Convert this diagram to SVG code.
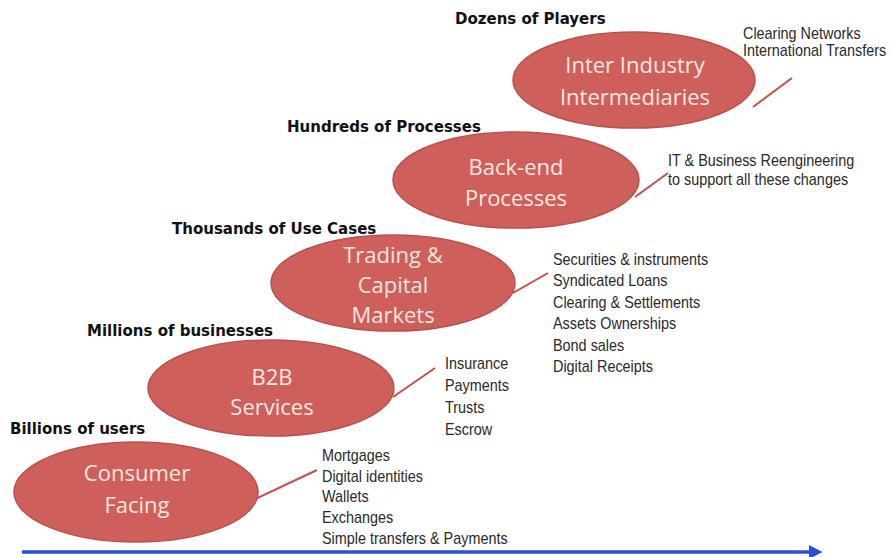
<svg xmlns="http://www.w3.org/2000/svg" width="891" height="557" viewBox="0 0 891 557">
  <defs>
    <style>
      .node ellipse { fill: #cf5f5a; stroke: #b9504c; stroke-width: 1.5; }
      .node text { font-family: "Open Sans", "Noto Sans", sans-serif; font-size: 22px; fill: #fbe6e2; text-anchor: middle; }
      .hdr { font-family: "DejaVu Sans", Verdana, sans-serif; font-weight: bold; font-size: 15px; fill: #111; }
      .lst text { font-family: "Liberation Sans", Arial, sans-serif; font-size: 16px; fill: #2a2a2a; }
      .tail { stroke: #c0504d; stroke-width: 2; fill: none; }
      .axis { stroke: #2b4fd6; stroke-width: 3.5; fill: none; }
    </style>
    <marker id="arrowhead" markerWidth="5" markerHeight="5" refX="1" refY="2.5" orient="auto" markerUnits="strokeWidth">
      <polygon points="0,0.4 4,2.5 0,4.6" fill="#2b4fd6"/>
    </marker>
  </defs>
  <rect width="891" height="557" fill="#ffffff"/>

  <g id="connectors">
    <line class="tail" x1="253" y1="500" x2="317" y2="470"/>
    <line class="tail" x1="393" y1="397" x2="435" y2="368"/>
    <line class="tail" x1="513" y1="293" x2="548" y2="273"/>
    <line class="tail" x1="635" y1="197" x2="668" y2="173"/>
    <line class="tail" x1="753" y1="107" x2="792" y2="78"/>
    <line class="axis" x1="22" y1="552" x2="812" y2="552" marker-end="url(#arrowhead)"/>
  </g>

  <g id="node-inter-industry" class="node">
    <ellipse cx="634" cy="80" rx="121" ry="48"/>
    <text x="635" y="73">Inter Industry</text>
    <text x="635" y="105">Intermediaries</text>
  </g>
  <g id="node-back-end" class="node">
    <ellipse cx="516" cy="180" rx="123" ry="48"/>
    <text x="516" y="175">Back-end</text>
    <text x="516" y="206">Processes</text>
  </g>
  <g id="node-trading" class="node">
    <ellipse cx="393" cy="283" rx="122" ry="48"/>
    <text x="393" y="263">Trading &amp;</text>
    <text x="393" y="293">Capital</text>
    <text x="393" y="323">Markets</text>
  </g>
  <g id="node-b2b" class="node">
    <ellipse cx="271" cy="388" rx="123" ry="48"/>
    <text x="272" y="385">B2B</text>
    <text x="272" y="415">Services</text>
  </g>
  <g id="node-consumer" class="node">
    <ellipse cx="136" cy="492" rx="122" ry="50"/>
    <text x="137" y="481">Consumer</text>
    <text x="137" y="513">Facing</text>
  </g>

  <g id="headers">
    <text class="hdr" x="455" y="23.5">Dozens of Players</text>
    <text class="hdr" x="287" y="131.5">Hundreds of Processes</text>
    <text class="hdr" x="172" y="233.5">Thousands of Use Cases</text>
    <text class="hdr" x="87" y="335.5">Millions of businesses</text>
    <text class="hdr" x="10" y="433.5">Billions of users</text>
  </g>

  <g id="list-inter" class="lst" transform="translate(743,0) scale(0.9,1)">
    <text x="0" y="39">Clearing Networks</text>
    <text x="0" y="56">International Transfers</text>
  </g>
  <g id="list-backend" class="lst" transform="translate(668,0) scale(0.9,1)">
    <text x="0" y="166.5">IT &amp; Business Reengineering</text>
    <text x="0" y="185.5">to support all these changes</text>
  </g>
  <g id="list-trading" class="lst" transform="translate(553,0) scale(0.9,1)">
    <text x="0" y="265.5">Securities &amp; instruments</text>
    <text x="0" y="286.5">Syndicated Loans</text>
    <text x="0" y="308.5">Clearing &amp; Settlements</text>
    <text x="0" y="329.5">Assets Ownerships</text>
    <text x="0" y="351.5">Bond sales</text>
    <text x="0" y="372.5">Digital Receipts</text>
  </g>
  <g id="list-b2b" class="lst" transform="translate(445,0) scale(0.9,1)">
    <text x="0" y="369.5">Insurance</text>
    <text x="0" y="391.5">Payments</text>
    <text x="0" y="413.5">Trusts</text>
    <text x="0" y="435.5">Escrow</text>
  </g>
  <g id="list-consumer" class="lst" transform="translate(322,0) scale(0.9,1)">
    <text x="0" y="461.5">Mortgages</text>
    <text x="0" y="482.5">Digital identities</text>
    <text x="0" y="502.5">Wallets</text>
    <text x="0" y="523.5">Exchanges</text>
    <text x="0" y="544.5">Simple transfers &amp; Payments</text>
  </g>
</svg>
